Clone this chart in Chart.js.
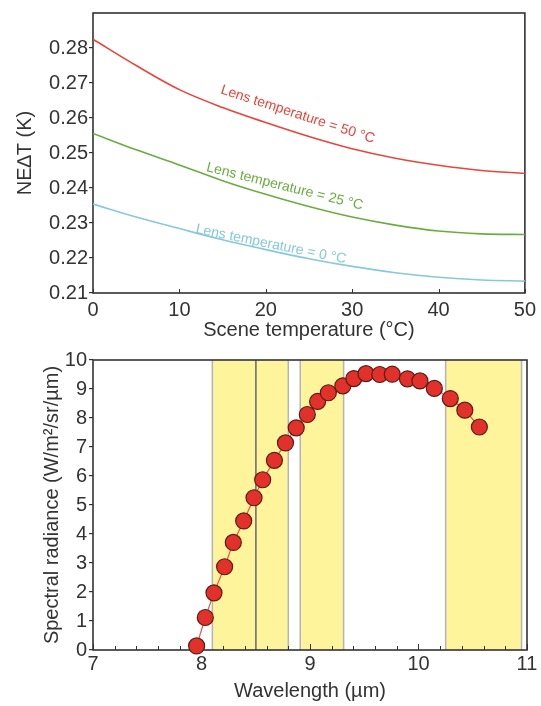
<!DOCTYPE html>
<html>
<head>
<meta charset="utf-8">
<script src="https://cdn.jsdelivr.net/npm/chart.js@4.4.1/dist/chart.umd.min.js"></script>
<style>
  html, body { margin: 0; padding: 0; background: #fff; }
  body { width: 541px; height: 706px; position: relative; overflow: hidden; }
  .wrap { position: absolute; left: 0; width: 541px; }
  #top { top: 0; height: 350px; }
  #bottom { top: 340px; height: 366px; }
</style>
</head>
<body>
<div class="wrap" id="top"><canvas id="netdChart" width="541" height="350"></canvas></div>
<div class="wrap" id="bottom"><canvas id="radianceChart" width="541" height="366"></canvas></div>
<script>
// Top panel: NETD vs scene temperature
const sceneTemps = [0, 5, 10, 15, 20, 25, 30, 35, 40, 45, 50];
const netdLens50 = [0.2825, 0.2750, 0.2681, 0.2630, 0.2587, 0.2547, 0.2512, 0.2485, 0.2465, 0.2450, 0.2442];
const netdLens25 = [0.2556, 0.2509, 0.2466, 0.2421, 0.2382, 0.2347, 0.2317, 0.2294, 0.2277, 0.2269, 0.2267];
const netdLens0 = [0.2354, 0.2317, 0.2284, 0.2252, 0.2224, 0.2198, 0.2176, 0.2158, 0.2145, 0.2137, 0.2134];
const lensLabels = ['Lens temperature = 50 °C', 'Lens temperature = 25 °C', 'Lens temperature = 0 °C'];

// Bottom panel: spectral radiance vs wavelength
const wavelengths = [7.955, 8.035, 8.115, 8.213, 8.293, 8.389, 8.484, 8.564, 8.672, 8.774, 8.873, 8.975, 9.070,
  9.169, 9.303, 9.404, 9.516, 9.643, 9.758, 9.898, 10.013, 10.146, 10.293, 10.427, 10.561];
const radiance = [0.14, 1.12, 1.97, 2.87, 3.71, 4.45, 5.25, 5.87, 6.54, 7.14, 7.66, 8.12, 8.57,
  8.87, 9.11, 9.36, 9.53, 9.50, 9.51, 9.35, 9.28, 9.02, 8.67, 8.27, 7.69];
const filterBands = [[8.1, 8.5], [8.5, 8.8], [8.91, 9.31], [10.25, 10.95]];

const FONT = "'Liberation Sans', Arial, sans-serif";
const INK = '#333333';

// where the curve labels sit (data coords) and their slant
const labelSpots = [
  { x: 23.7, y: 0.2610, angle: 18, color: '#e8453c' },
  { x: 22.2, y: 0.2404, angle: 14, color: '#6aad3f' },
  { x: 20.6, y: 0.2239, angle: 11.5, color: '#86c9d8' }
];

function toPoints(xs, ys) {
  return xs.map((x, i) => ({ x: x, y: ys[i] }));
}

// frame, inward x ticks and optional shaded bands
function panelDecor(opts) {
  return {
    id: 'panelDecor',
    beforeDatasetsDraw(chart) {
      const { ctx, chartArea: a, scales: { x } } = chart;
      ctx.save();
      (opts.bands || []).forEach(b => {
        const x0 = x.getPixelForValue(b[0]);
        const x1 = x.getPixelForValue(b[1]);
        ctx.fillStyle = '#fdf49b';
        ctx.fillRect(x0, a.top, x1 - x0, a.bottom - a.top);
      });
      (opts.bands || []).forEach(b => {
        b.forEach(v => {
          const px = x.getPixelForValue(v);
          ctx.strokeStyle = v === 8.5 ? '#7a7a7a' : '#b4b4b4';
          ctx.lineWidth = 1.5;
          ctx.beginPath();
          ctx.moveTo(px, a.top);
          ctx.lineTo(px, a.bottom);
          ctx.stroke();
        });
      });
      ctx.strokeStyle = INK;
      ctx.lineWidth = 1;
      for (let v = x.min; v <= x.max + 1e-9; v += opts.minorStep) {
        const px = Math.round(x.getPixelForValue(v)) + 0.5;
        const isMajor = Math.abs(v / opts.majorStep - Math.round(v / opts.majorStep)) < 1e-6;
        const len = isMajor ? opts.majorLen : opts.minorLen;
        ctx.beginPath();
        ctx.moveTo(px, a.bottom);
        ctx.lineTo(px, a.bottom - len);
        ctx.stroke();
      }
      ctx.lineWidth = 1.6;
      ctx.strokeRect(a.left, a.top, a.right - a.left, a.bottom - a.top);
      ctx.restore();
    },
    afterDatasetsDraw(chart) {
      if (!opts.labels) return;
      const { ctx, scales: { x, y } } = chart;
      ctx.save();
      ctx.font = '14px ' + FONT;
      ctx.textAlign = 'center';
      ctx.textBaseline = 'middle';
      opts.labels.forEach((text, i) => {
        const s = labelSpots[i];
        ctx.save();
        ctx.translate(x.getPixelForValue(s.x), y.getPixelForValue(s.y));
        ctx.rotate(s.angle * Math.PI / 180);
        ctx.fillStyle = s.color;
        ctx.fillText(text, 0, 0);
        ctx.restore();
      });
      ctx.restore();
    }
  };
}

Chart.defaults.font.family = FONT;
Chart.defaults.color = INK;

new Chart(document.getElementById('netdChart').getContext('2d'), {
  type: 'line',
  data: {
    datasets: [
      { data: toPoints(sceneTemps, netdLens50), borderColor: '#e8453c' },
      { data: toPoints(sceneTemps, netdLens25), borderColor: '#6aad3f' },
      { data: toPoints(sceneTemps, netdLens0), borderColor: '#86c9d8' }
    ].map(d => Object.assign(d, {
      borderWidth: 1.6, pointRadius: 0, fill: false, cubicInterpolationMode: 'monotone'
    }))
  },
  options: {
    responsive: false,
    animation: false,
    layout: { padding: { top: 7, right: 16, left: 0, bottom: 0 } },
    plugins: { legend: { display: false }, tooltip: { enabled: false } },
    scales: {
      x: {
        type: 'linear', min: 0, max: 50,
        afterFit: s => { s.height = 350 - 293; },
        ticks: { stepSize: 10, padding: 5, font: { size: 20 }, color: INK, maxRotation: 0 },
        grid: { display: false, drawTicks: false },
        border: { display: false },
        title: { display: true, text: 'Scene temperature (°C)', font: { size: 20 }, color: INK, padding: { bottom: 8, top: 0 } }
      },
      y: {
        min: 0.21, max: 0.29,
        afterFit: s => { s.width = 93; },
        ticks: {
          stepSize: 0.01, padding: 1, font: { size: 20 }, color: INK,
          callback: v => v > 0.285 ? null : v.toFixed(2)
        },
        grid: { drawOnChartArea: false, drawTicks: true, tickLength: 4, color: INK, lineWidth: 1.2 },
        border: { display: false },
        title: { display: true, text: 'NE∆T (K)', font: { size: 20 }, color: INK, padding: { top: 13, bottom: 0 } }
      }
    }
  },
  plugins: [panelDecor({ minorStep: 10, majorStep: 10, majorLen: 4, minorLen: 4, labels: lensLabels })]
});

new Chart(document.getElementById('radianceChart').getContext('2d'), {
  type: 'line',
  data: {
    datasets: [{
      data: toPoints(wavelengths, radiance),
      borderColor: '#e8583c',
      borderWidth: 1.2,
      tension: 0,
      pointRadius: 8,
      pointBackgroundColor: '#e2302a',
      pointBorderColor: '#5a1c16',
      pointBorderWidth: 1.2,
      clip: false
    }]
  },
  options: {
    responsive: false,
    animation: false,
    layout: { padding: { top: 20, right: 14, left: 0, bottom: 0 } },
    plugins: { legend: { display: false }, tooltip: { enabled: false } },
    scales: {
      x: {
        type: 'linear', min: 7, max: 11,
        afterFit: s => { s.height = 366 - 310; },
        ticks: { stepSize: 1, padding: 2, font: { size: 20 }, color: INK, maxRotation: 0 },
        grid: { display: false, drawTicks: false },
        border: { display: false },
        title: { display: true, text: 'Wavelength (µm)', font: { size: 20 }, color: INK, padding: { bottom: 3, top: 0 } }
      },
      y: {
        min: 0, max: 10,
        afterFit: s => { s.width = 93; },
        ticks: { stepSize: 1, padding: 2, font: { size: 20 }, color: INK },
        grid: { drawOnChartArea: false, drawTicks: true, tickLength: 4, color: INK, lineWidth: 1.2 },
        border: { display: false },
        title: { display: true, text: 'Spectral radiance (W/m²/sr/µm)', font: { size: 20 }, color: INK, padding: { top: 40, bottom: 0 } }
      }
    }
  },
  plugins: [panelDecor({ minorStep: 0.2, majorStep: 1, majorLen: 6, minorLen: 4, bands: filterBands })]
});
</script>
</body>
</html>
